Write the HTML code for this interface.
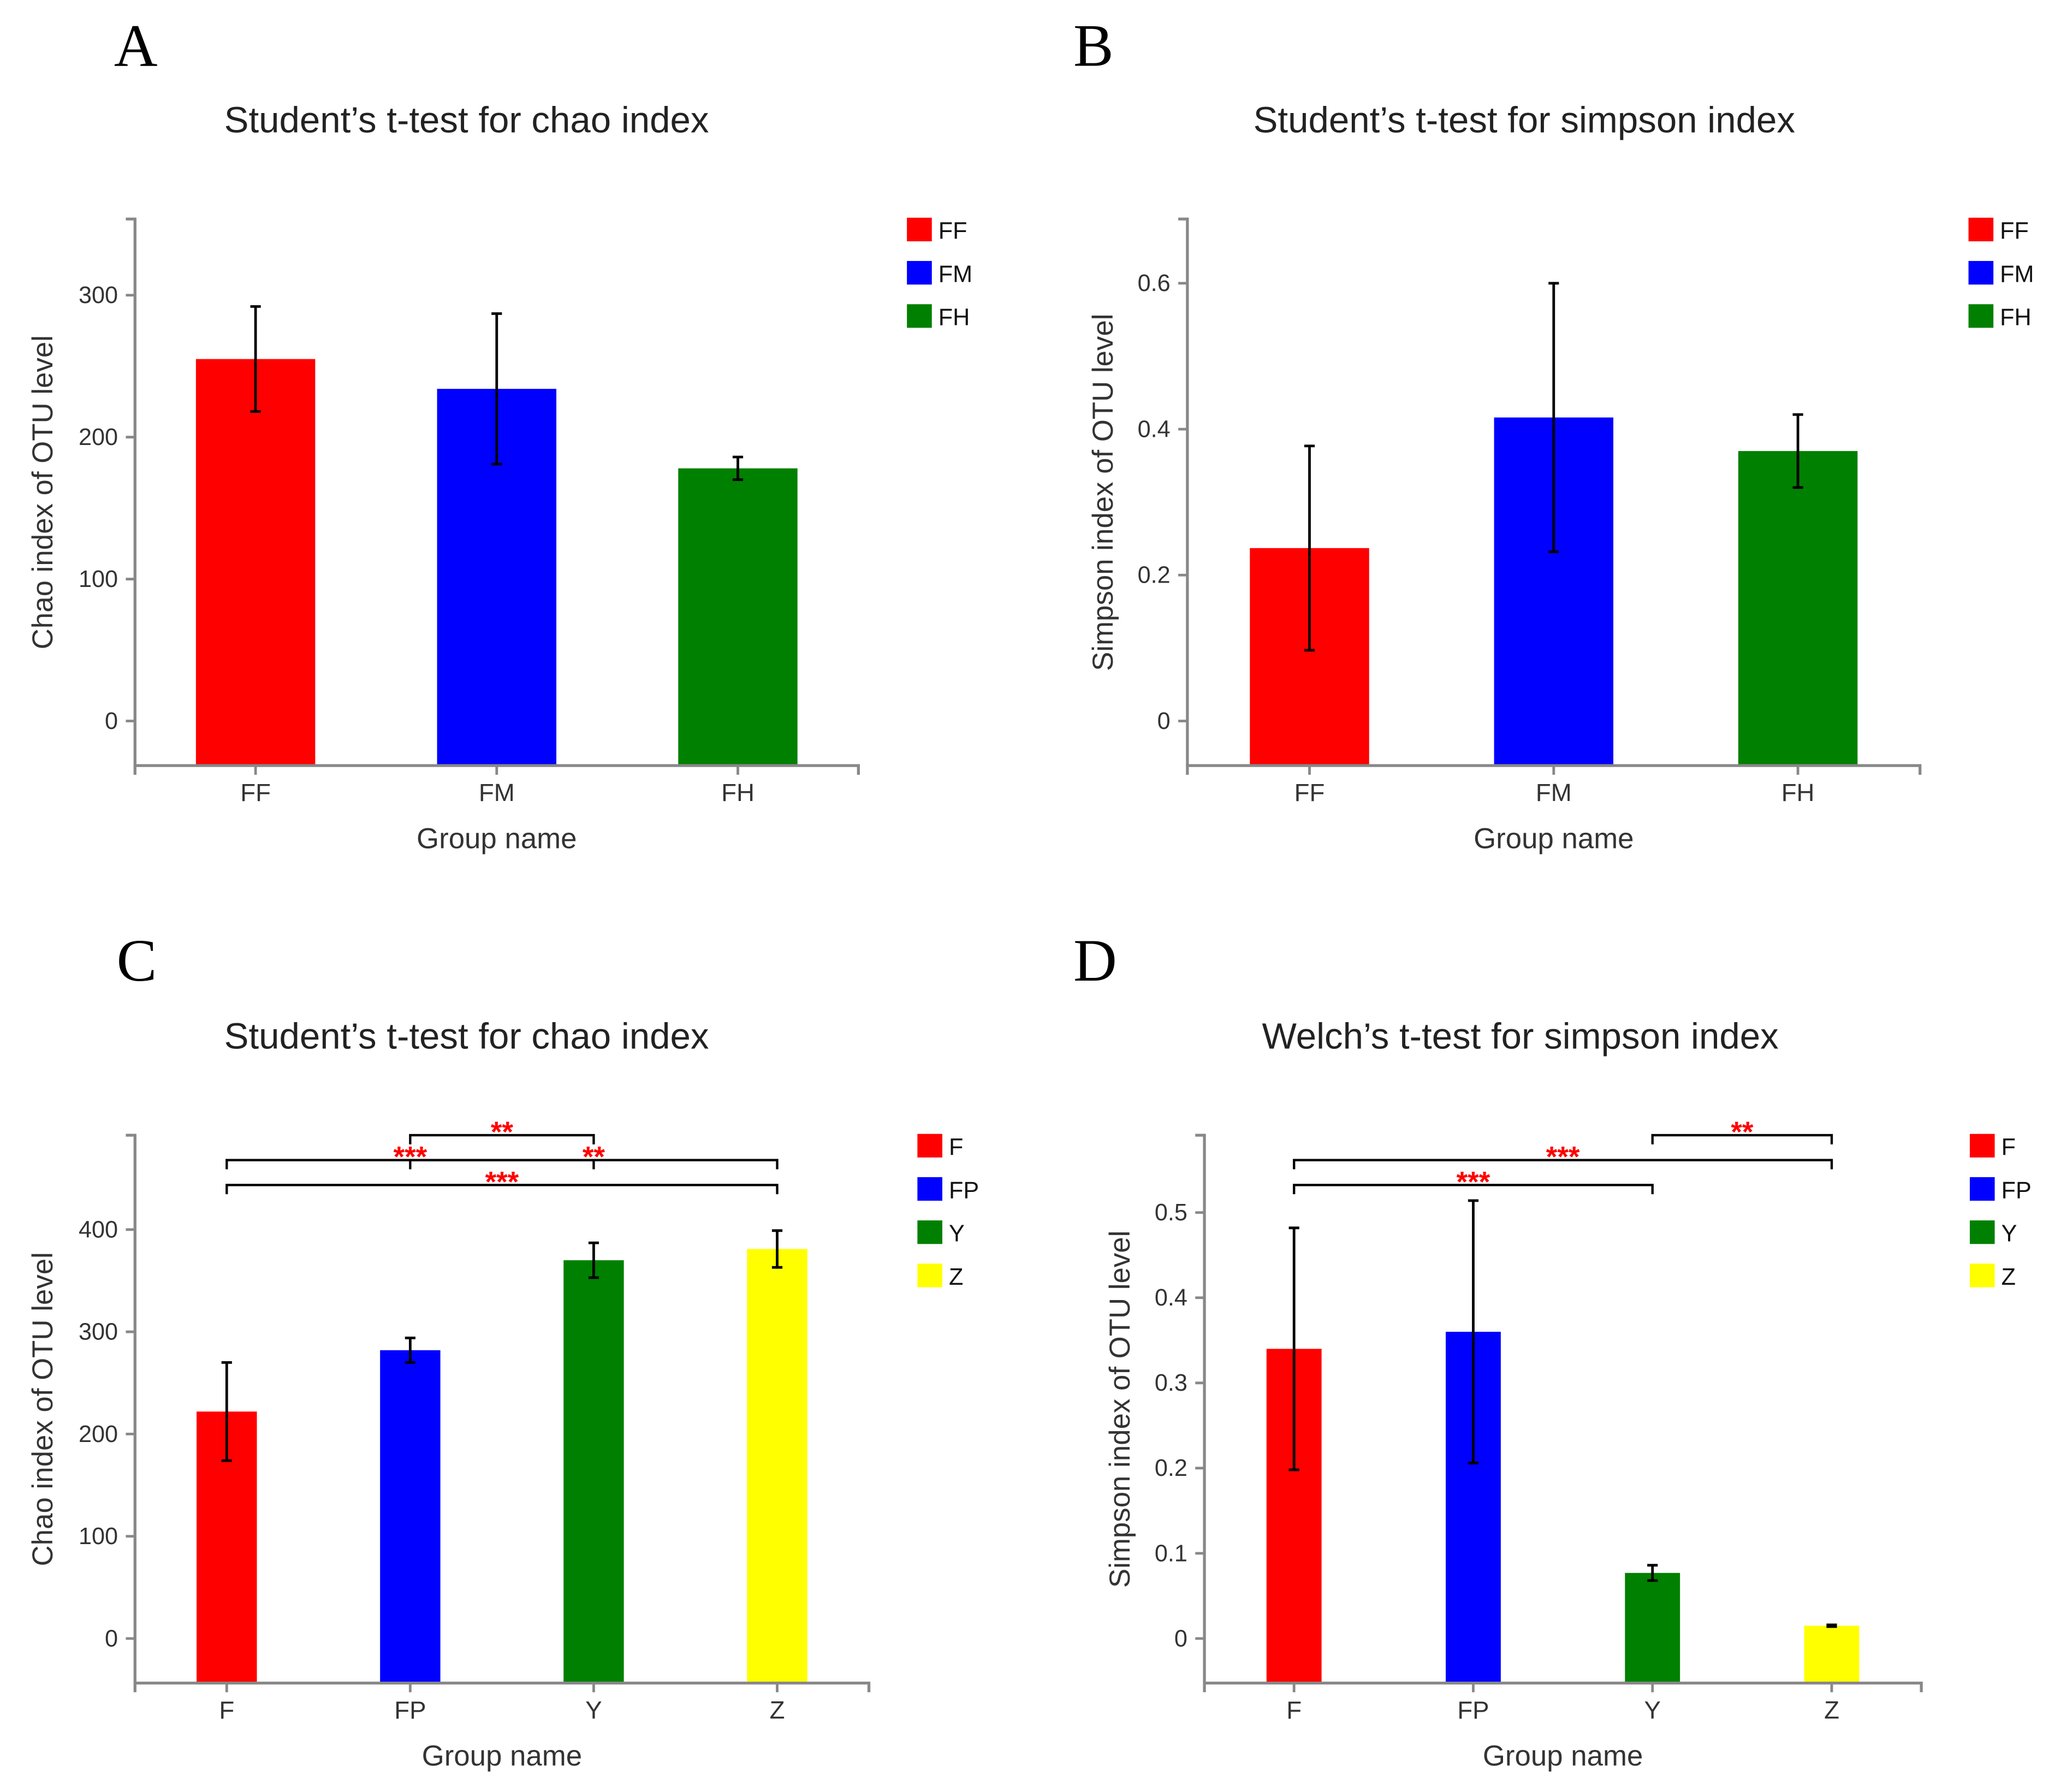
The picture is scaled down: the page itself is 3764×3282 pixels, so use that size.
<!DOCTYPE html>
<html><head><meta charset="utf-8"><style>
html,body{margin:0;padding:0;background:#fff;}
svg{display:block;}
</style></head><body>
<svg id="fig" width="3764" height="3282" viewBox="0 0 1568 1367" xmlns="http://www.w3.org/2000/svg" font-family="Liberation Sans, sans-serif">
<rect x="0" y="0" width="1568" height="1367" fill="#fff"/>
</svg>
<script>
// Panel A data
const catsA = ["FF","FM","FH"];
const valsA = [255, 234, 178];
const errsA = [37, 53, 8];
const ticksA = [0,100,200,300];
// Panel B data
const catsB = ["FF","FM","FH"];
const valsB = [0.237, 0.416, 0.37];
const errsB = [0.14, 0.184, 0.05];
const ticksB = [0,0.2,0.4,0.6];
const tickLabB = ["0","0.2","0.4","0.6"];
// Panel C data
const catsC = ["F","FP","Y","Z"];
const valsC = [222, 282, 370, 381];
const errsC = [48, 12, 17, 18];
const ticksC = [0,100,200,300,400];
// Panel D data
const catsD = ["F","FP","Y","Z"];
const valsD = [0.34, 0.36, 0.077, 0.015];
const errsD = [0.142, 0.154, 0.009, 0.001];
const ticksD = [0,0.1,0.2,0.3,0.4,0.5];
const tickLabD = ["0","0.1","0.2","0.3","0.4","0.5"];
// significance brackets: [fromIndex, toIndex, label, row]
const sigC = [[1,2,"**",0],[0,2,"***",1],[1,3,"**",1],[0,3,"***",2]];
const sigD = [[2,3,"**",0],[0,3,"***",1],[0,2,"***",2]];
const colors = ["#ff0000","#0000ff","#008000","#ffff00"];

const NS="http://www.w3.org/2000/svg";
const svg=document.getElementById('fig');
function el(tag,attrs,parent,txt){const e=document.createElementNS(NS,tag);for(const k in attrs)e.setAttribute(k,attrs[k]);if(txt!==undefined)e.textContent=txt;(parent||svg).appendChild(e);return e;}

function panel(o){
  const g=el('g',{});
  
  
  const yS=v=>o.y0-(v-0)*o.ppu;
  const n=o.cats.length, step=(o.xR-o.xL)/n;
  const xS=i=>o.xL+step*(i+0.5)+o.xShift;
  let t=el('text',{x:o.lx,y:o.ly,'font-size':46,'font-family':'Liberation Serif, serif'},g,o.id);
  
  t=el('text',{x:o.tx,y:o.ty,'font-size':28,'text-anchor':'middle',fill:'#222'},g,o.title);
  
  o.vals.forEach((v,i)=>{
    const r=el('rect',{x:xS(i)-o.bw/2,y:yS(v),width:o.bw,height:o.axY-yS(v),fill:colors[i]},g);
    
    const e=o.errs[i],x=xS(i);
    const eb=el('path',{d:`M${x},${yS(v+e)}V${yS(v-e)}M${x-4},${yS(v+e)}h8M${x-4},${yS(v-e)}h8`,stroke:'#000','stroke-width':2,fill:'none'},g);
    
  });
  const ya=el('path',{d:`M${o.xL-7},${o.top}H${o.xL}V${o.axY}`,stroke:'#888','stroke-width':2.2,fill:'none'},g);
  
  const xa=el('path',{d:`M${o.xL},${o.axY+7}V${o.axY}H${o.xR}V${o.axY+7}`,stroke:'#888','stroke-width':2.2,fill:'none'},g);
  
  o.ticks.forEach((v,i)=>{
    el('line',{x1:o.xL-7,x2:o.xL,y1:yS(v),y2:yS(v),stroke:'#888','stroke-width':2},g);
    const tl=el('text',{x:o.xL-13,y:yS(v)+6,'font-size':18,'text-anchor':'end',fill:'#333'},g,o.tlab?o.tlab[i]:String(v));
    
  });
  o.cats.forEach((c,i)=>{
    el('line',{x1:xS(i),x2:xS(i),y1:o.axY,y2:o.axY+7,stroke:'#888','stroke-width':2},g);
    const tl=el('text',{x:xS(i),y:o.axY+27,'font-size':19,'text-anchor':'middle',fill:'#333'},g,c);
    
  });
  t=el('text',{x:(o.xL+o.xR)/2,y:o.axY+63,'font-size':22,'text-anchor':'middle',fill:'#333'},g,'Group name');
  
  const cy=(o.top+o.axY)/2;
  t=el('text',{x:o.ytx,y:cy,'font-size':22,'text-anchor':'middle',fill:'#333',transform:`rotate(-90 ${o.ytx} ${cy})`},g,o.ytitle);
  
  o.cats.forEach((c,i)=>{
    const lg=el('g',{},g);
    
    el('rect',{x:o.legX,y:o.legY+i*33,width:19,height:18,fill:colors[i]},lg);
    el('text',{x:o.legX+24,y:o.legY+i*33+16,'font-size':18,fill:'#111'},lg,c);
  });
  (o.sig||[]).forEach(s=>{
    const y=866+s[3]*19,x1=xS(s[0]),x2=xS(s[1]);
    const b=el('path',{d:`M${x1},${y+7}V${y}H${x2}V${y+7}`,stroke:'#000','stroke-width':1.8,fill:'none'},g);
    
    const st=el('text',{x:(x1+x2)/2,y:y+5,'font-size':22,'font-weight':'bold','text-anchor':'middle',fill:'#ff0000'},g,s[2]);
    
  });
}
panel({id:'A',cats:catsA,vals:valsA,errs:errsA,ticks:ticksA,title:"Student’s t-test for chao index",ytitle:'Chao index of OTU level',
  xL:103,xR:655,xShift:0,top:167,axY:584,y0:550,ppu:1.083,bw:91,lx:87,ly:50,tx:356,ty:101,ytx:40,legX:692,legY:166});
panel({id:'B',cats:catsB,vals:valsB,errs:errsB,ticks:ticksB,tlab:tickLabB,title:"Student’s t-test for simpson index",ytitle:'Simpson index of OTU level',
  xL:906,xR:1465,xShift:0,top:167,axY:584,y0:550,ppu:556.7,bw:91,lx:819,ly:50,tx:1163,ty:101,ytx:849,legX:1502,legY:166});
panel({id:'C',cats:catsC,vals:valsC,errs:errsC,ticks:ticksC,title:"Student’s t-test for chao index",ytitle:'Chao index of OTU level',
  xL:103,xR:663,xShift:0,top:866,axY:1284,y0:1250,ppu:0.78,bw:46,lx:89,ly:748,tx:356,ty:800,ytx:40,legX:700,legY:865,sig:sigC});
panel({id:'D',cats:catsD,vals:valsD,errs:errsD,ticks:ticksD,tlab:tickLabD,title:"Welch’s t-test for simpson index",ytitle:'Simpson index of OTU level',
  xL:919,xR:1466,xShift:0,top:866,axY:1284,y0:1250,ppu:650,bw:42,lx:819,ly:748,tx:1160,ty:800,ytx:862,legX:1503,legY:865,sig:sigD});
</script>
</body></html>
